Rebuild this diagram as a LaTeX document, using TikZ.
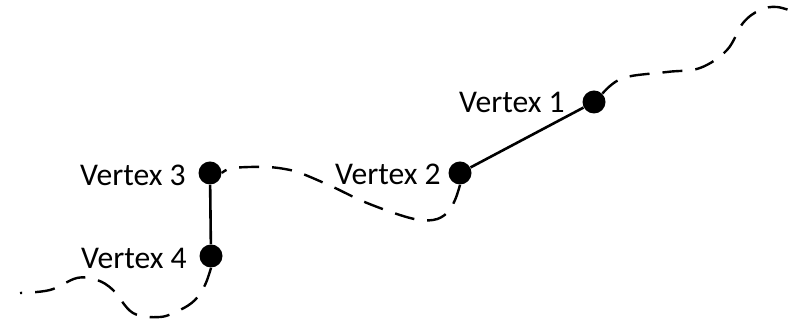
\documentclass[tikz,border=0pt]{standalone}
\usepackage{fontspec}
\setmainfont{Carlito}
\begin{document}
\begin{tikzpicture}[x=0.5pt,y=-0.5pt,
  vdot/.style={circle,fill=black,inner sep=0pt,minimum size=11.5pt},
  vlabel/.style={anchor=east,inner sep=0pt,font=\fontsize{15.8}{18}\selectfont},
  edge/.style={line width=1.3pt},
  trail/.style={line width=1.2pt,dash pattern=on 10pt off 6.5pt}]
\useasboundingbox (0,0) rectangle (808,324);
\node[vdot] (v1) at (594,102) {};
\node[vdot] (v2) at (460,173) {};
\node[vdot] (v3) at (210,173) {};
\node[vdot] (v4) at (211,256) {};
\node[vlabel] (l1) at (565,102) {Vertex 1};
\node[vlabel] (l2) at (441,174) {Vertex 2};
\node[vlabel] (l3) at (186,175) {Vertex 3};
\node[vlabel] (l4) at (187,258) {Vertex 4};
\draw[edge] (v1) -- (v2);
\draw[edge] (v3) -- (v4);
\draw[trail] plot[smooth,tension=0.6] coordinates {(v1.north east) (623,78) (667,72) (700,68) (727,50) (743,23) (760,10) (777,7) (797,13)};
\draw[trail] plot[smooth,tension=0.6] coordinates {(v2.south) (455,200) (447,213) (433,220) (410,218) (367,203) (333,187) (303,174) (290,170) (267,167) (233,168) (v3.east)};
\draw[trail] plot[smooth,tension=0.6] coordinates {(v4.south) (205,285) (195,300) (180,310) (160,317) (133,313) (113,290) (97,280) (77,278) (50,290) (20,293)};
\end{tikzpicture}
\end{document}
